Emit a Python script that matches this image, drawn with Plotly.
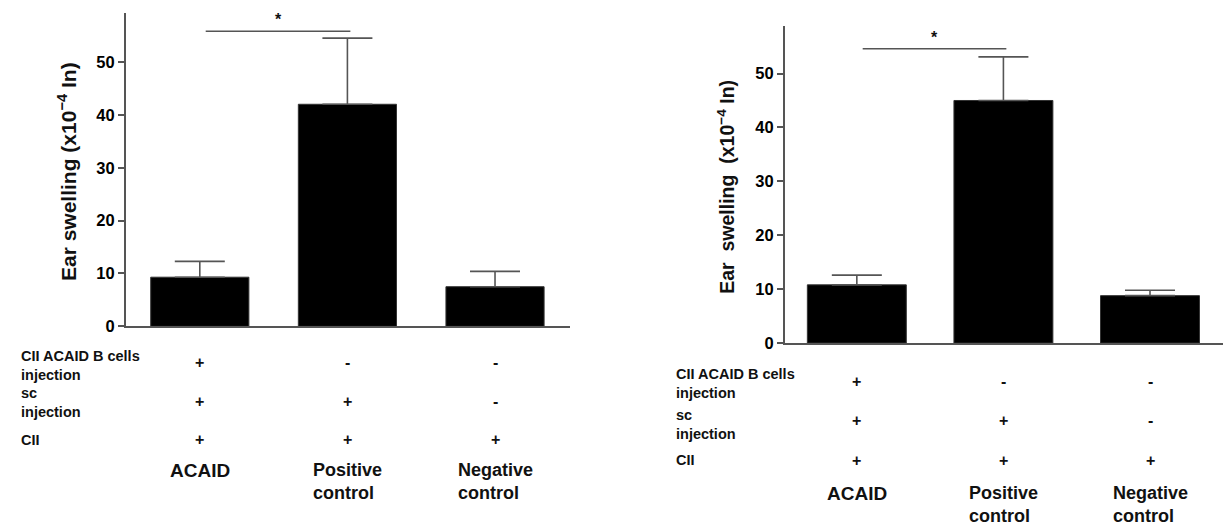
import plotly.graph_objects as go

W, H = 1223, 531

# ---- data ----
categories = ["ACAID", "Positive<br>control", "Negative<br>control"]
left_means = [9.3, 42.0, 7.5]
left_err = [3.0, 12.5, 2.9]
right_means = [10.8, 45.0, 8.8]
right_err = [1.8, 8.1, 1.0]
y_ticks = [0, 10, 20, 30, 40, 50]
row_labels = ["CII ACAID B cells<br>injection", "sc<br>injection", "CII"]
row_symbols = [["+", "-", "-"], ["+", "+", "-"], ["+", "+", "+"]]
sig_pair = [0.04, 1.02]
left_sig_y = 55.8
right_sig_y = 54.6
y_title = "<b>Ear swelling (x10<sup>−4</sup> In)</b>"
y_title_right = "<b>Ear\u00a0 swelling\u00a0 (x10<sup>−4</sup> In)</b>"

FONT = "Liberation Sans, Arial, sans-serif"
AX = "#555555"
TXT = "#111111"


def px(x):
    return x / W


def py(y):
    return 1 - y / H


xpos = list(range(len(categories)))

fig = go.Figure()
for means, errs, xa, ya, bw in [(left_means, left_err, "x", "y", 0.665),
                                (right_means, right_err, "x2", "y2", 0.675)]:
    fig.add_trace(go.Bar(
        x=xpos, y=means, xaxis=xa, yaxis=ya, width=bw,
        marker=dict(color="black", line=dict(color="#333333", width=1)),
        error_y=dict(type="data", array=errs, arrayminus=[0] * len(errs), symmetric=False,
                     color=AX, thickness=1.6, width=25),
        showlegend=False, hoverinfo="skip",
    ))

axis_common = dict(showgrid=False, zeroline=False, showline=True, linecolor=AX, linewidth=2)
ytick_text = ["<b>%d</b>" % t for t in y_ticks]
tickfont = dict(size=16.5, family=FONT, color="#000000")

fig.update_layout(
    width=W, height=H, margin=dict(l=0, r=0, t=0, b=0),
    plot_bgcolor="white", paper_bgcolor="white",
    font=dict(family=FONT, color=TXT),
    hovermode=False,
    xaxis=dict(domain=[px(126), px(570)], range=[-0.50, 2.508], showticklabels=False,
               ticks="", **axis_common),
    yaxis=dict(domain=[py(332), py(13)], range=[0, 59.3], tickvals=y_ticks, ticktext=ytick_text,
               ticks="outside", ticklen=6, tickwidth=2, tickcolor=AX,
               tickfont=tickfont, **axis_common),
    xaxis2=dict(domain=[px(785), 1.0], range=[-0.49, 2.498], showticklabels=False,
                ticks="", anchor="y2", **axis_common),
    yaxis2=dict(domain=[py(349), py(26)], range=[0, 58.9], tickvals=y_ticks, ticktext=ytick_text,
                ticks="outside", ticklen=6, tickwidth=2, tickcolor=AX, anchor="x2",
                tickfont=tickfont, **axis_common),
)

annotations = []
shapes = []

panels = [
    dict(xr="x", yr="y", sig_y=left_sig_y, title_x=67, title_y=175, title=y_title, tsize=21,
         label_x=19, row_y=[369, 408, 447], row_top=[352, 390, 437], cat_top=466),
    dict(xr="x2", yr="y2", sig_y=right_sig_y, title_x=726, title_y=190, title=y_title_right, tsize=19.5,
         label_x=674, row_y=[388, 428, 468], row_top=[370, 412, 458], cat_top=489),
]

for p in panels:
    # significance bracket
    shapes.append(dict(type="line", xref=p["xr"], yref=p["yr"], x0=sig_pair[0], x1=sig_pair[1],
                       y0=p["sig_y"], y1=p["sig_y"], line=dict(color=AX, width=1.6)))
    annotations.append(dict(xref=p["xr"], yref=p["yr"], x=sum(sig_pair) / 2, y=p["sig_y"],
                            text="<b>*</b>", showarrow=False, yanchor="bottom", yshift=1,
                            font=dict(size=16, family=FONT, color=TXT)))
    # y-axis title
    annotations.append(dict(xref="paper", yref="paper", x=px(p["title_x"]), y=py(p["title_y"]),
                            text=p["title"], textangle=-90, showarrow=False,
                            xanchor="center", yanchor="middle",
                            font=dict(size=p["tsize"], family=FONT, color=TXT)))
    # table rows
    for r, lab in enumerate(row_labels):
        annotations.append(dict(xref="paper", yref="paper", x=px(p["label_x"]), y=py(p["row_top"][r]),
                                text="<b>%s</b>" % lab, showarrow=False, align="left",
                                xanchor="left", yanchor="top",
                                font=dict(size=14.5, family=FONT, color=TXT)))
        for c, sym in enumerate(row_symbols[r]):
            annotations.append(dict(xref=p["xr"], yref="paper", x=xpos[c], y=py(p["row_y"][r]),
                                    text="<b>%s</b>" % sym, showarrow=False,
                                    xanchor="center", yanchor="middle",
                                    font=dict(size=16, family=FONT, color=TXT)))
    # category labels
    for c, cat in enumerate(categories):
        annotations.append(dict(xref=p["xr"], yref="paper", x=xpos[c], y=py(p["cat_top"]),
                                text="<b>%s</b>" % cat, showarrow=False, align="left",
                                xanchor="center", yanchor="top",
                                font=dict(size=19 if c == 0 else 18, family=FONT, color=TXT)))

fig.update_layout(annotations=annotations, shapes=shapes)
fig.write_html("out.html",
               config={"displayModeBar": False, "staticPlot": True},
               post_script="document.body.style.margin='0';document.body.style.overflow='hidden';")
